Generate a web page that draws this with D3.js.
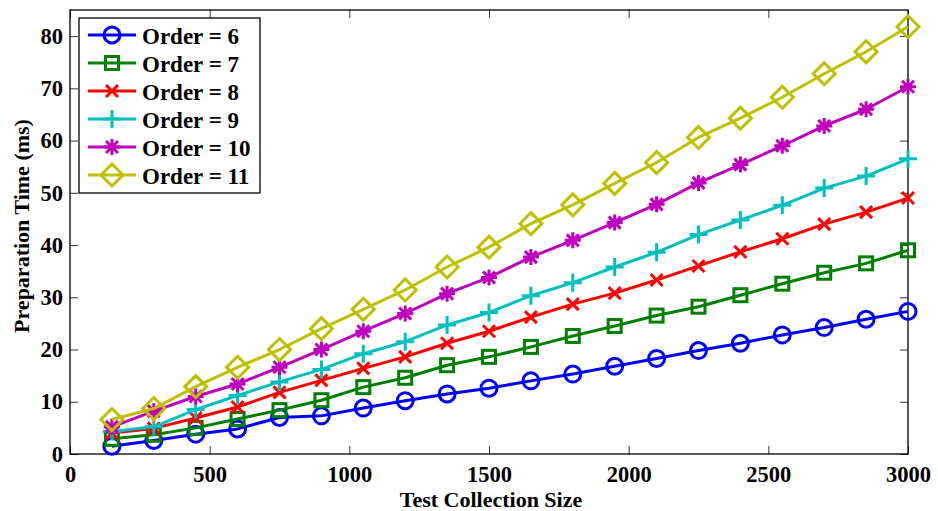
<!DOCTYPE html>
<html>
<head>
<meta charset="utf-8">
<script src="https://cdn.jsdelivr.net/npm/d3@7"></script>
<style>
  html, body { margin: 0; padding: 0; background: #fff; }
  svg { display: block; }
  text { font-family: "Liberation Serif", "Times New Roman", serif; font-weight: bold; }
</style>
</head>
<body>
<svg id="chart" width="938" height="511"></svg>
<script>
// Test collection sizes (x values)
const sizes = [150, 300, 450, 600, 750, 900, 1050, 1200, 1350, 1500, 1650, 1800, 1950, 2100, 2250, 2400, 2550, 2700, 2850, 3000];

// Preparation time (ms) for each order
const order6  = [1.5, 2.6, 3.8, 4.8, 7.0, 7.3, 8.8, 10.2, 11.5, 12.6, 14.0, 15.3, 16.8, 18.3, 19.8, 21.2, 22.8, 24.2, 25.8, 27.3];
const order7  = [2.9, 3.7, 5.0, 6.7, 8.4, 10.3, 12.8, 14.6, 17.0, 18.6, 20.5, 22.6, 24.5, 26.5, 28.2, 30.4, 32.6, 34.7, 36.5, 39.0];
const order8  = [4.0, 4.9, 6.9, 9.0, 11.8, 14.1, 16.4, 18.6, 21.2, 23.5, 26.2, 28.7, 30.8, 33.3, 36.0, 38.7, 41.2, 44.0, 46.3, 49.0];
const order9  = [4.3, 5.2, 8.5, 11.2, 13.8, 16.2, 19.2, 21.5, 24.7, 27.1, 30.3, 32.8, 35.8, 38.6, 42.0, 44.8, 47.6, 50.9, 53.2, 56.5];
const order10 = [5.2, 8.2, 11.0, 13.4, 16.6, 20.0, 23.5, 26.9, 30.7, 33.8, 37.7, 40.9, 44.3, 47.8, 51.9, 55.4, 59.0, 62.8, 66.0, 70.3];
const order11 = [6.6, 8.7, 12.9, 16.6, 20.0, 24.0, 27.7, 31.4, 35.8, 39.6, 44.1, 47.7, 51.8, 55.8, 60.6, 64.3, 68.3, 72.8, 77.0, 81.8];

const seriesNames = ["Order = 6", "Order = 7", "Order = 8", "Order = 9", "Order = 10", "Order = 11"];
const seriesValues = [order6, order7, order8, order9, order10, order11];
const seriesColors = ["#0000ff", "#008000", "#ff0000", "#00bfbf", "#bf00bf", "#bfbf00"];
const seriesMarkers = ["circle", "square", "x", "plus", "star", "diamond"];

const xTicks = [0, 500, 1000, 1500, 2000, 2500, 3000];
const yTicks = [0, 10, 20, 30, 40, 50, 60, 70, 80];

const svg = d3.select("#chart");
const m = { left: 70, right: 30, top: 10, bottom: 57 };
const W = 938, H = 511;
const iw = W - m.left - m.right, ih = H - m.top - m.bottom;

const x = d3.scaleLinear().domain([0, 3000]).range([m.left, m.left + iw]);
const y = d3.scaleLinear().domain([0, 85]).range([m.top + ih, m.top]);

const tickLen = 8;
const tickFont = "22.5px";
const legendFont = "23px";
// Bottom axis with inward ticks
const gx = svg.append("g").attr("transform", `translate(0,${m.top + ih})`)
  .call(d3.axisBottom(x).tickValues(xTicks).tickSize(-tickLen).tickPadding(12).tickFormat(d3.format("d")));
// Top mirrored ticks
const gxt = svg.append("g").attr("transform", `translate(0,${m.top})`)
  .call(d3.axisTop(x).tickValues(xTicks).tickSize(-tickLen).tickFormat(""));
// Left axis
const gy = svg.append("g").attr("transform", `translate(${m.left},0)`)
  .call(d3.axisLeft(y).tickValues(yTicks).tickSize(-tickLen).tickPadding(7).tickFormat(d3.format("d")));
// Right mirrored ticks
const gyr = svg.append("g").attr("transform", `translate(${m.left + iw},0)`)
  .call(d3.axisRight(y).tickValues(yTicks).tickSize(-tickLen).tickFormat(""));

[gx, gxt, gy, gyr].forEach(g => {
  g.select(".domain").remove();
  g.selectAll(".tick line").attr("stroke", "#333").attr("stroke-width", 1);
  g.selectAll("text").attr("fill", "#000").style("font-size", tickFont)
    .style("font-family", "'Liberation Serif', serif").style("font-weight", "bold");
});

// Frame
svg.append("rect").attr("x", m.left).attr("y", m.top).attr("width", iw).attr("height", ih)
  .attr("fill", "none").attr("stroke", "#000").attr("stroke-width", 1.3);

// Marker drawing
function drawMarker(g, type, color) {
  const sw = 3;
  if (type === "circle") {
    g.append("circle").attr("r", 8).attr("fill", "none").attr("stroke", color).attr("stroke-width", sw);
  } else if (type === "square") {
    g.append("rect").attr("x", -6.5).attr("y", -6.5).attr("width", 13).attr("height", 13)
      .attr("fill", "none").attr("stroke", color).attr("stroke-width", sw);
  } else if (type === "x") {
    g.append("path").attr("d", "M-6,-6L6,6M-6,6L6,-6").attr("stroke", color).attr("stroke-width", sw);
  } else if (type === "plus") {
    g.append("path").attr("d", "M-9,0L9,0M0,-9L0,9").attr("stroke", color).attr("stroke-width", sw);
  } else if (type === "star") {
    g.append("path").attr("d", "M-8,0L8,0M0,-8L0,8M-6,-6L6,6M-6,6L6,-6").attr("stroke", color).attr("stroke-width", sw);
  } else if (type === "diamond") {
    g.append("path").attr("d", "M0,-11L11,0L0,11L-11,0Z").attr("fill", "none").attr("stroke", color).attr("stroke-width", sw);
  }
}

const line = d3.line().x((d, i) => x(sizes[i])).y(d => y(d));

seriesValues.forEach((vals, k) => {
  const g = svg.append("g");
  g.append("path").datum(vals).attr("d", line).attr("fill", "none")
    .attr("stroke", seriesColors[k]).attr("stroke-width", 3).attr("stroke-linejoin", "round");
  vals.forEach((v, i) => {
    const mg = g.append("g").attr("transform", `translate(${x(sizes[i])},${y(v)})`);
    drawMarker(mg, seriesMarkers[k], seriesColors[k]);
  });
});

// Legend
const lg = svg.append("g").attr("transform", "translate(79,18)");
lg.append("rect").attr("width", 181).attr("height", 175).attr("fill", "#fff").attr("stroke", "#000").attr("stroke-width", 1.3);
seriesNames.forEach((name, k) => {
  const yy = 17 + k * 28;
  lg.append("line").attr("x1", 9).attr("x2", 57).attr("y1", yy).attr("y2", yy)
    .attr("stroke", seriesColors[k]).attr("stroke-width", 3);
  const mg = lg.append("g").attr("transform", `translate(33,${yy})`);
  drawMarker(mg, seriesMarkers[k], seriesColors[k]);
  lg.append("text").attr("x", 63).attr("y", yy + 9).text(name).style("font-size", legendFont).attr("fill", "#000");
});

// Axis titles
svg.append("text").attr("x", 491).attr("y", 507).attr("text-anchor", "middle")
  .style("font-size", "22px").text("Test Collection Size");
svg.append("text").attr("transform", `translate(29,226) rotate(-90)`).attr("text-anchor", "middle")
  .style("font-size", "22px").text("Preparation Time (ms)");
</script>
</body>
</html>
